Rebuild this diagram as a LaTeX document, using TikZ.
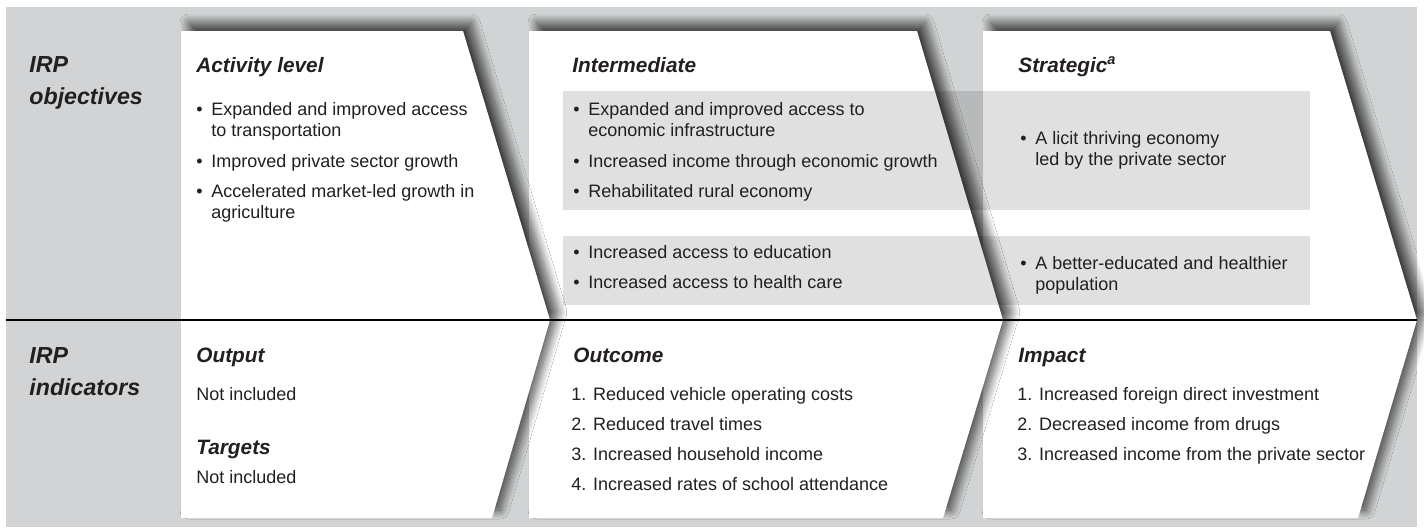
\documentclass[tikz,border=0pt]{standalone}
\usepackage{fontspec}
\setmainfont{Liberation Sans}
\usetikzlibrary{shadows.blur}

\definecolor{bggray}{RGB}{209,211,212}
\definecolor{inkgray}{RGB}{35,31,32}
\newcommand{\blt}{\makebox[7.5pt][l]{\textbullet}}
\newcommand{\bltind}{\hspace*{7.5pt}}

\begin{document}
\begin{tikzpicture}[x=0.5pt,y=-0.5pt]

    \tikzset{
      chevron/.style={
        fill=white,
        blur shadow={shadow xshift=4pt, shadow yshift=4pt,
          shadow blur radius=4.5pt, shadow blur steps=16, shadow opacity=70},
      },
      band/.style={fill=black, fill opacity=0.12},
      rowlabel/.style={anchor=base west, inner sep=0pt, align=left, text=inkgray,
        font=\fontsize{11.6}{16}\selectfont\bfseries\itshape},
      head/.style={anchor=base west, inner sep=0pt, text=inkgray,
        font=\fontsize{10.4}{12.5}\selectfont\bfseries\itshape},
      entry/.style={anchor=base west, inner sep=0pt, align=left, text=inkgray,
        font=\fontsize{9}{10.5}\selectfont},
    }
    \useasboundingbox (0,0) rectangle (1424,527);
    \fill[bggray] (6,7) rectangle (1417,527);

    % chevrons, back to front
    \path[chevron] (983,31) -- (1330,31) -- (1417,320) -- (1358,518) -- (983,518) -- cycle;
    \path[chevron] (529,31) -- (917,31) -- (1003,320) -- (943,518) -- (529,518) -- cycle;
    \path[chevron] (181,31) -- (463,31) -- (550,320) -- (492,518) -- (181,518) -- cycle;

    % shaded bands
    \fill[band] (563,91) rectangle (1310,210);
    \fill[band] (563,236) rectangle (1310,305);

    \draw[color={black},line width=1pt] (6,320) -- (1417,320);

    % row labels (base = last line)
    \node[rowlabel] (objectives) at (29,104) {IRP\\objectives};
    \node[rowlabel] (indicators) at (29,395) {IRP\\indicators};

    % objectives row
    \node[head] (activity) at (196,72) {Activity level};
    \node[entry] (act1) at (196,136) {\blt Expanded and improved access\\\bltind to transportation};
    \node[entry] (act2) at (196,167) {\blt Improved private sector growth};
    \node[entry] (act3) at (196,218) {\blt Accelerated market-led growth in\\\bltind agriculture};

    \node[head] (intermediate) at (572,72) {Intermediate};
    \node[entry] (int1) at (573,136) {\blt Expanded and improved access to\\\bltind economic infrastructure};
    \node[entry] (int2) at (573,167) {\blt Increased income through economic growth};
    \node[entry] (int3) at (573,197) {\blt Rehabilitated rural economy};
    \node[entry] (int4) at (573,258) {\blt Increased access to education};
    \node[entry] (int5) at (573,288) {\blt Increased access to health care};

    \node[head] (strategic) at (1018,72) {Strategic\textsuperscript{a}};
    \node[entry] (str1) at (1020,165) {\blt A licit thriving economy\\\bltind led by the private sector};
    \node[entry] (str2) at (1020,290) {\blt A better-educated and healthier\\\bltind population};

    % indicators row
    \node[head] (output) at (196,362) {Output};
    \node[entry] (out1) at (196,400) {Not included};
    \node[head] (targets) at (196,454) {Targets};
    \node[entry] (tar1) at (196,483) {Not included};

    \node[head] (outcome) at (573,362) {Outcome};
    \node[entry] (oc1) at (571,400) {1. Reduced vehicle operating costs};
    \node[entry] (oc2) at (571,430) {2. Reduced travel times};
    \node[entry] (oc3) at (571,460) {3. Increased household income};
    \node[entry] (oc4) at (571,490) {4. Increased rates of school attendance};

    \node[head] (impact) at (1018,362) {Impact};
    \node[entry] (im1) at (1017,400) {1. Increased foreign direct investment};
    \node[entry] (im2) at (1017,430) {2. Decreased income from drugs};
    \node[entry] (im3) at (1017,460) {3. Increased income from the private sector};

\end{tikzpicture}
\end{document}
